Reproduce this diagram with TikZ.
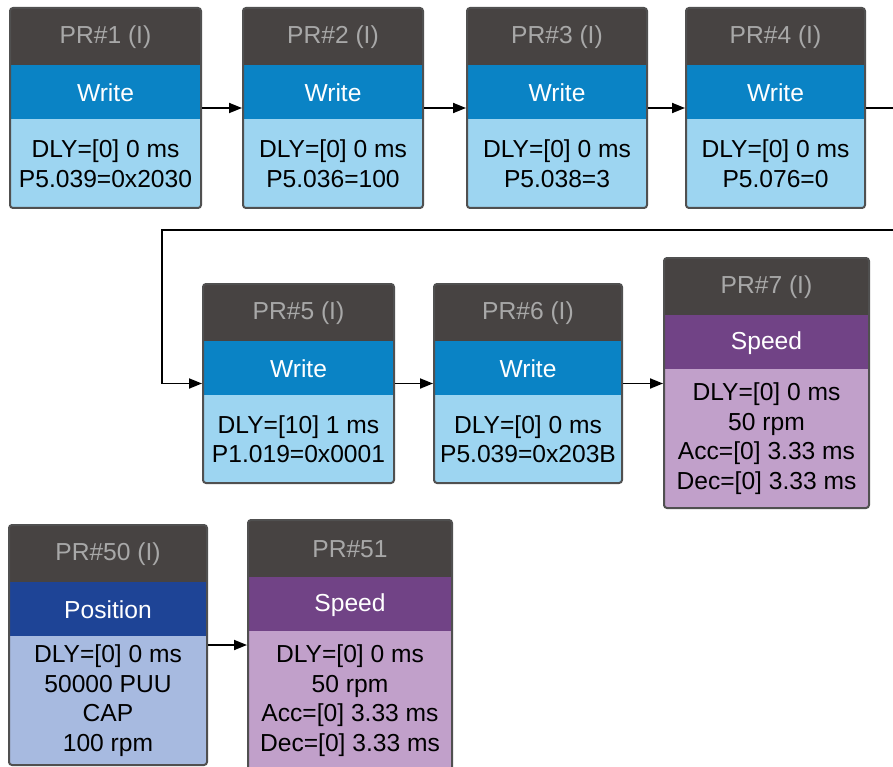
\documentclass[tikz,border=0pt]{standalone}
\usepackage{fontspec}
\setmainfont{Liberation Sans}
\usetikzlibrary{positioning, fit, arrows.meta}

\definecolor{prhead}{RGB}{71,67,66}
\definecolor{prtitle}{RGB}{168,168,168}
\definecolor{prframe}{RGB}{80,80,80}
\definecolor{writeband}{RGB}{10,131,197}
\definecolor{writebody}{RGB}{157,213,241}
\definecolor{speedband}{RGB}{113,67,134}
\definecolor{speedbody}{RGB}{193,160,202}
\definecolor{posband}{RGB}{30,68,150}
\definecolor{posbody}{RGB}{167,186,224}

\newcommand{\prfont}{\fontsize{24.6}{29.5}\selectfont}

\begin{document}
\begin{tikzpicture}[
    x=1pt, y=-1pt,
    head/.style={fill=prhead, draw=prhead, line width=2pt, outer sep=0pt, text=prtitle, minimum height=57pt, inner sep=0pt, font=\prfont},
    band/.style={fill=#1, draw=#1, line width=2pt, outer sep=0pt, text=white, minimum height=54pt, inner sep=0pt, font=\prfont},
    body/.style={fill=#1, draw=#1, line width=2pt, outer sep=0pt, text=black, inner sep=0pt, align=center, font=\prfont},
    frame/.style={draw=prframe, line width=2pt, rounded corners=3pt, inner sep=1pt},
    link/.style={-{Triangle[length=13pt,width=10pt]}, line width=1.8pt}
]
    \useasboundingbox (0,0) rectangle (893,767);
    \clip (0,0) rectangle (893,767);

    % Row 1: write steps
    \node[head, minimum width=189pt, anchor=north west] (pr1h) at (11,9) {PR\#1 (I)};
    \node[band=writeband, minimum width=189pt, below=0pt of pr1h] (pr1m) {Write};
    \node[body=writebody, minimum width=189pt, minimum height=87pt, below=0pt of pr1m] (pr1b) {DLY=[0] 0 ms\\P5.039=0x2030};
    \node[frame, fit=(pr1h)(pr1b)] (pr1) {};

    \node[head, minimum width=178pt, anchor=north west] (pr2h) at (244,9) {PR\#2 (I)};
    \node[band=writeband, minimum width=178pt, below=0pt of pr2h] (pr2m) {Write};
    \node[body=writebody, minimum width=178pt, minimum height=87pt, below=0pt of pr2m] (pr2b) {DLY=[0] 0 ms\\P5.036=100};
    \node[frame, fit=(pr2h)(pr2b)] (pr2) {};

    \node[head, minimum width=178pt, anchor=north west] (pr3h) at (468,9) {PR\#3 (I)};
    \node[band=writeband, minimum width=178pt, below=0pt of pr3h] (pr3m) {Write};
    \node[body=writebody, minimum width=178pt, minimum height=87pt, below=0pt of pr3m] (pr3b) {DLY=[0] 0 ms\\P5.038=3};
    \node[frame, fit=(pr3h)(pr3b)] (pr3) {};

    \node[head, minimum width=177pt, anchor=north west] (pr4h) at (687,9) {PR\#4 (I)};
    \node[band=writeband, minimum width=177pt, below=0pt of pr4h] (pr4m) {Write};
    \node[body=writebody, minimum width=177pt, minimum height=87pt, below=0pt of pr4m] (pr4b) {DLY=[0] 0 ms\\P5.076=0};
    \node[frame, fit=(pr4h)(pr4b)] (pr4) {};

    % Row 2
    \node[head, minimum width=189pt, anchor=north west] (pr5h) at (204,285) {PR\#5 (I)};
    \node[band=writeband, minimum width=189pt, below=0pt of pr5h] (pr5m) {Write};
    \node[body=writebody, minimum width=189pt, minimum height=86pt, below=0pt of pr5m] (pr5b) {DLY=[10] 1 ms\\P1.019=0x0001};
    \node[frame, fit=(pr5h)(pr5b)] (pr5) {};

    \node[head, minimum width=186pt, anchor=north west] (pr6h) at (435,285) {PR\#6 (I)};
    \node[band=writeband, minimum width=186pt, below=0pt of pr6h] (pr6m) {Write};
    \node[body=writebody, minimum width=186pt, minimum height=86pt, below=0pt of pr6m] (pr6b) {DLY=[0] 0 ms\\P5.039=0x203B};
    \node[frame, fit=(pr6h)(pr6b)] (pr6) {};

    \node[head, minimum width=203pt, anchor=north west] (pr7h) at (665,259) {PR\#7 (I)};
    \node[band=speedband, minimum width=203pt, below=0pt of pr7h] (pr7m) {Speed};
    \node[body=speedbody, minimum width=203pt, minimum height=137pt, below=0pt of pr7m] (pr7b) {DLY=[0] 0 ms\\50 rpm\\Acc=[0] 3.33 ms\\Dec=[0] 3.33 ms};
    \node[frame, fit=(pr7h)(pr7b)] (pr7) {};

    % Row 3
    \node[head, minimum width=196pt, anchor=north west] (pr50h) at (10,526) {PR\#50 (I)};
    \node[band=posband, minimum width=196pt, below=0pt of pr50h] (pr50m) {Position};
    \node[body=posbody, minimum width=196pt, minimum height=127pt, below=0pt of pr50m] (pr50b) {DLY=[0] 0 ms\\50000 PUU\\CAP\\100 rpm};
    \node[frame, fit=(pr50h)(pr50b)] (pr50) {};

    \node[head, minimum width=202pt, anchor=north west] (pr51h) at (249,521) {PR\#51};
    \node[band=speedband, minimum width=202pt, below=0pt of pr51h] (pr51m) {Speed};
    \node[body=speedbody, minimum width=202pt, minimum height=137pt, below=0pt of pr51m] (pr51b) {DLY=[0] 0 ms\\50 rpm\\Acc=[0] 3.33 ms\\Dec=[0] 3.33 ms};
    \node[frame, fit=(pr51h)(pr51b)] (pr51) {};

    % Links
    \draw[link] (pr1) -- (pr2);
    \draw[link] (pr2) -- (pr3);
    \draw[link] (pr3) -- (pr4);
    \coordinate (wrapR) at (905,230);
    \coordinate (wrapL) at (162,230);
    \draw[link] (pr4.east) -| (wrapR) -- (wrapL) |- (pr5.west);
    \draw[link] (pr5) -- (pr6);
    \draw[link] (pr6.east) -- (pr6.east -| pr7.west);
    \draw[link] (pr50.east) -- (pr50.east -| pr51.west);
\end{tikzpicture}
\end{document}
